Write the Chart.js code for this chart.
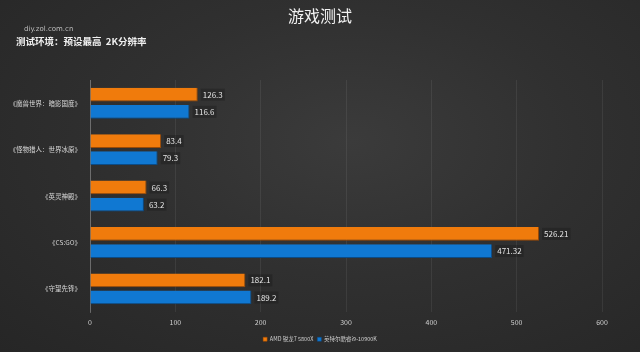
<!DOCTYPE html>
<html>
<head>
<meta charset="utf-8">
<script src="https://cdn.jsdelivr.net/npm/chart.js@4/dist/chart.umd.min.js"></script>
<style>
    html, body {
        margin: 0;
        padding: 0;
    }
    body {
        width: 640px;
        height: 352px;
        background: radial-gradient(ellipse at 55% 40%, #3b3b3b 0%, #303030 45%, #262626 100%);
        overflow: hidden;
    }
    #wrap {
        position: relative;
        width: 640px;
        height: 352px;
    }
</style>
</head>
<body>
<div id="wrap"><canvas id="gameChart" width="640" height="352"></canvas></div>
<script>
// data
var games = ["《魔兽世界：暗影国度》", "《怪物猎人：世界冰原》", "《英灵神殿》", "《CS:GO》", "《守望先锋》"];
var amdFps = [126.3, 83.4, 66.3, 526.21, 182.1];
var intelFps = [116.6, 79.3, 63.2, 471.32, 189.2];
var seriesNames = ["AMD 锐龙7 5800X", "英特尔酷睿i9-10900K"];
var xTicks = [0, 100, 200, 300, 400, 500, 600];

var font = "'Noto Sans CJK SC', 'Noto Sans', sans-serif";

// header text (title + source + test setting)
var headerText = {
    id: "headerText",
    afterLayout: function (chart) {
        // legend sits centred on the page, not on the plot
        chart.legend.left += 17;
        chart.legend.right += 17;
    },
    afterDraw: function (chart) {
        var c = chart.ctx;
        c.save();
        c.fillStyle = "#f2f2f2";
        c.font = "16px " + font;
        c.textAlign = "center";
        c.textBaseline = "middle";
        c.fillText("游戏测试", 320, 16);

        c.textAlign = "left";
        c.fillStyle = "#bdbdbd";
        c.font = "7px 'DejaVu Sans', sans-serif";
        c.fillText("diy.zol.com.cn", 24, 29);

        c.fillStyle = "#f0f0f0";
        c.font = "bold 9.5px " + font;
        c.fillText("测试环境：预设最高  2K分辨率", 16, 41);
        c.restore();
    }
};

// value labels right of each bar
var barValues = {
    id: "barValues",
    afterDatasetsDraw: function (chart) {
        var c = chart.ctx;
        c.save();
        c.font = "8px " + font;
        c.textAlign = "left";
        c.textBaseline = "middle";
        chart.data.datasets.forEach(function (ds, i) {
            chart.getDatasetMeta(i).data.forEach(function (bar, j) {
                var txt = String(ds.data[j]);
                var w = c.measureText(txt).width;
                c.fillStyle = "rgba(20,20,20,0.3)";
                c.fillRect(bar.x + 3, bar.y - 6, w + 4, 12);
                c.fillStyle = "#e6e6e6";
                c.fillText(txt, bar.x + 5, bar.y);
            });
        });
        c.restore();
    }
};

function barFill(base, light) {
    return function (ctx) {
        var el = ctx.element;
        if (!el || el.y === undefined || isNaN(el.y)) return base;
        var h = el.height || 13;
        var g = ctx.chart.ctx.createLinearGradient(0, el.y - h / 2, 0, el.y + h / 2);
        g.addColorStop(0, light);
        g.addColorStop(0.25, base);
        g.addColorStop(1, base);
        return g;
    };
}

var ctx = document.getElementById("gameChart").getContext("2d");

new Chart(ctx, {
    type: "bar",
    data: {
        labels: games,
        datasets: [{
            label: seriesNames[0],
            data: amdFps,
            backgroundColor: barFill("#f07b0c", "#f7a450"),
            borderColor: "#9a4a06",
            borderWidth: { right: 1, bottom: 1 },
            barPercentage: 0.8,
            categoryPercentage: 0.74
        }, {
            label: seriesNames[1],
            data: intelFps,
            backgroundColor: barFill("#1078d2", "#4aa0e6"),
            borderColor: "#0a4b86",
            borderWidth: { right: 1, bottom: 1 },
            barPercentage: 0.8,
            categoryPercentage: 0.74
        }]
    },
    options: {
        indexAxis: "y",
        responsive: false,
        animation: false,
        layout: {
            padding: { top: 80, left: 4, right: 38, bottom: 0 }
        },
        scales: {
            x: {
                min: 0,
                max: 600,
                afterBuildTicks: function (axis) {
                    axis.ticks = xTicks.map(function (v) { return { value: v }; });
                },
                grid: {
                    color: "rgba(255,255,255,0.07)",
                    drawTicks: false
                },
                border: { display: false },
                ticks: {
                    color: "#cfcfcf",
                    font: { size: 7, family: font },
                    padding: 6
                }
            },
            y: {
                afterFit: function (scale) { scale.width = 86; },
                grid: { display: false, drawTicks: false },
                border: { display: true, color: "rgba(255,255,255,0.25)" },
                ticks: {
                    color: "#d8d8d8",
                    font: { size: 6.5, family: font },
                    padding: 9
                }
            }
        },
        plugins: {
            legend: {
                position: "bottom",
                labels: {
                    color: "#cfcfcf",
                    font: { size: 5.5, family: font },
                    boxWidth: 4,
                    boxHeight: 4,
                    padding: 4
                }
            },
            tooltip: { enabled: false },
            title: { display: false }
        }
    },
    plugins: [headerText, barValues]
});
</script>
</body>
</html>
